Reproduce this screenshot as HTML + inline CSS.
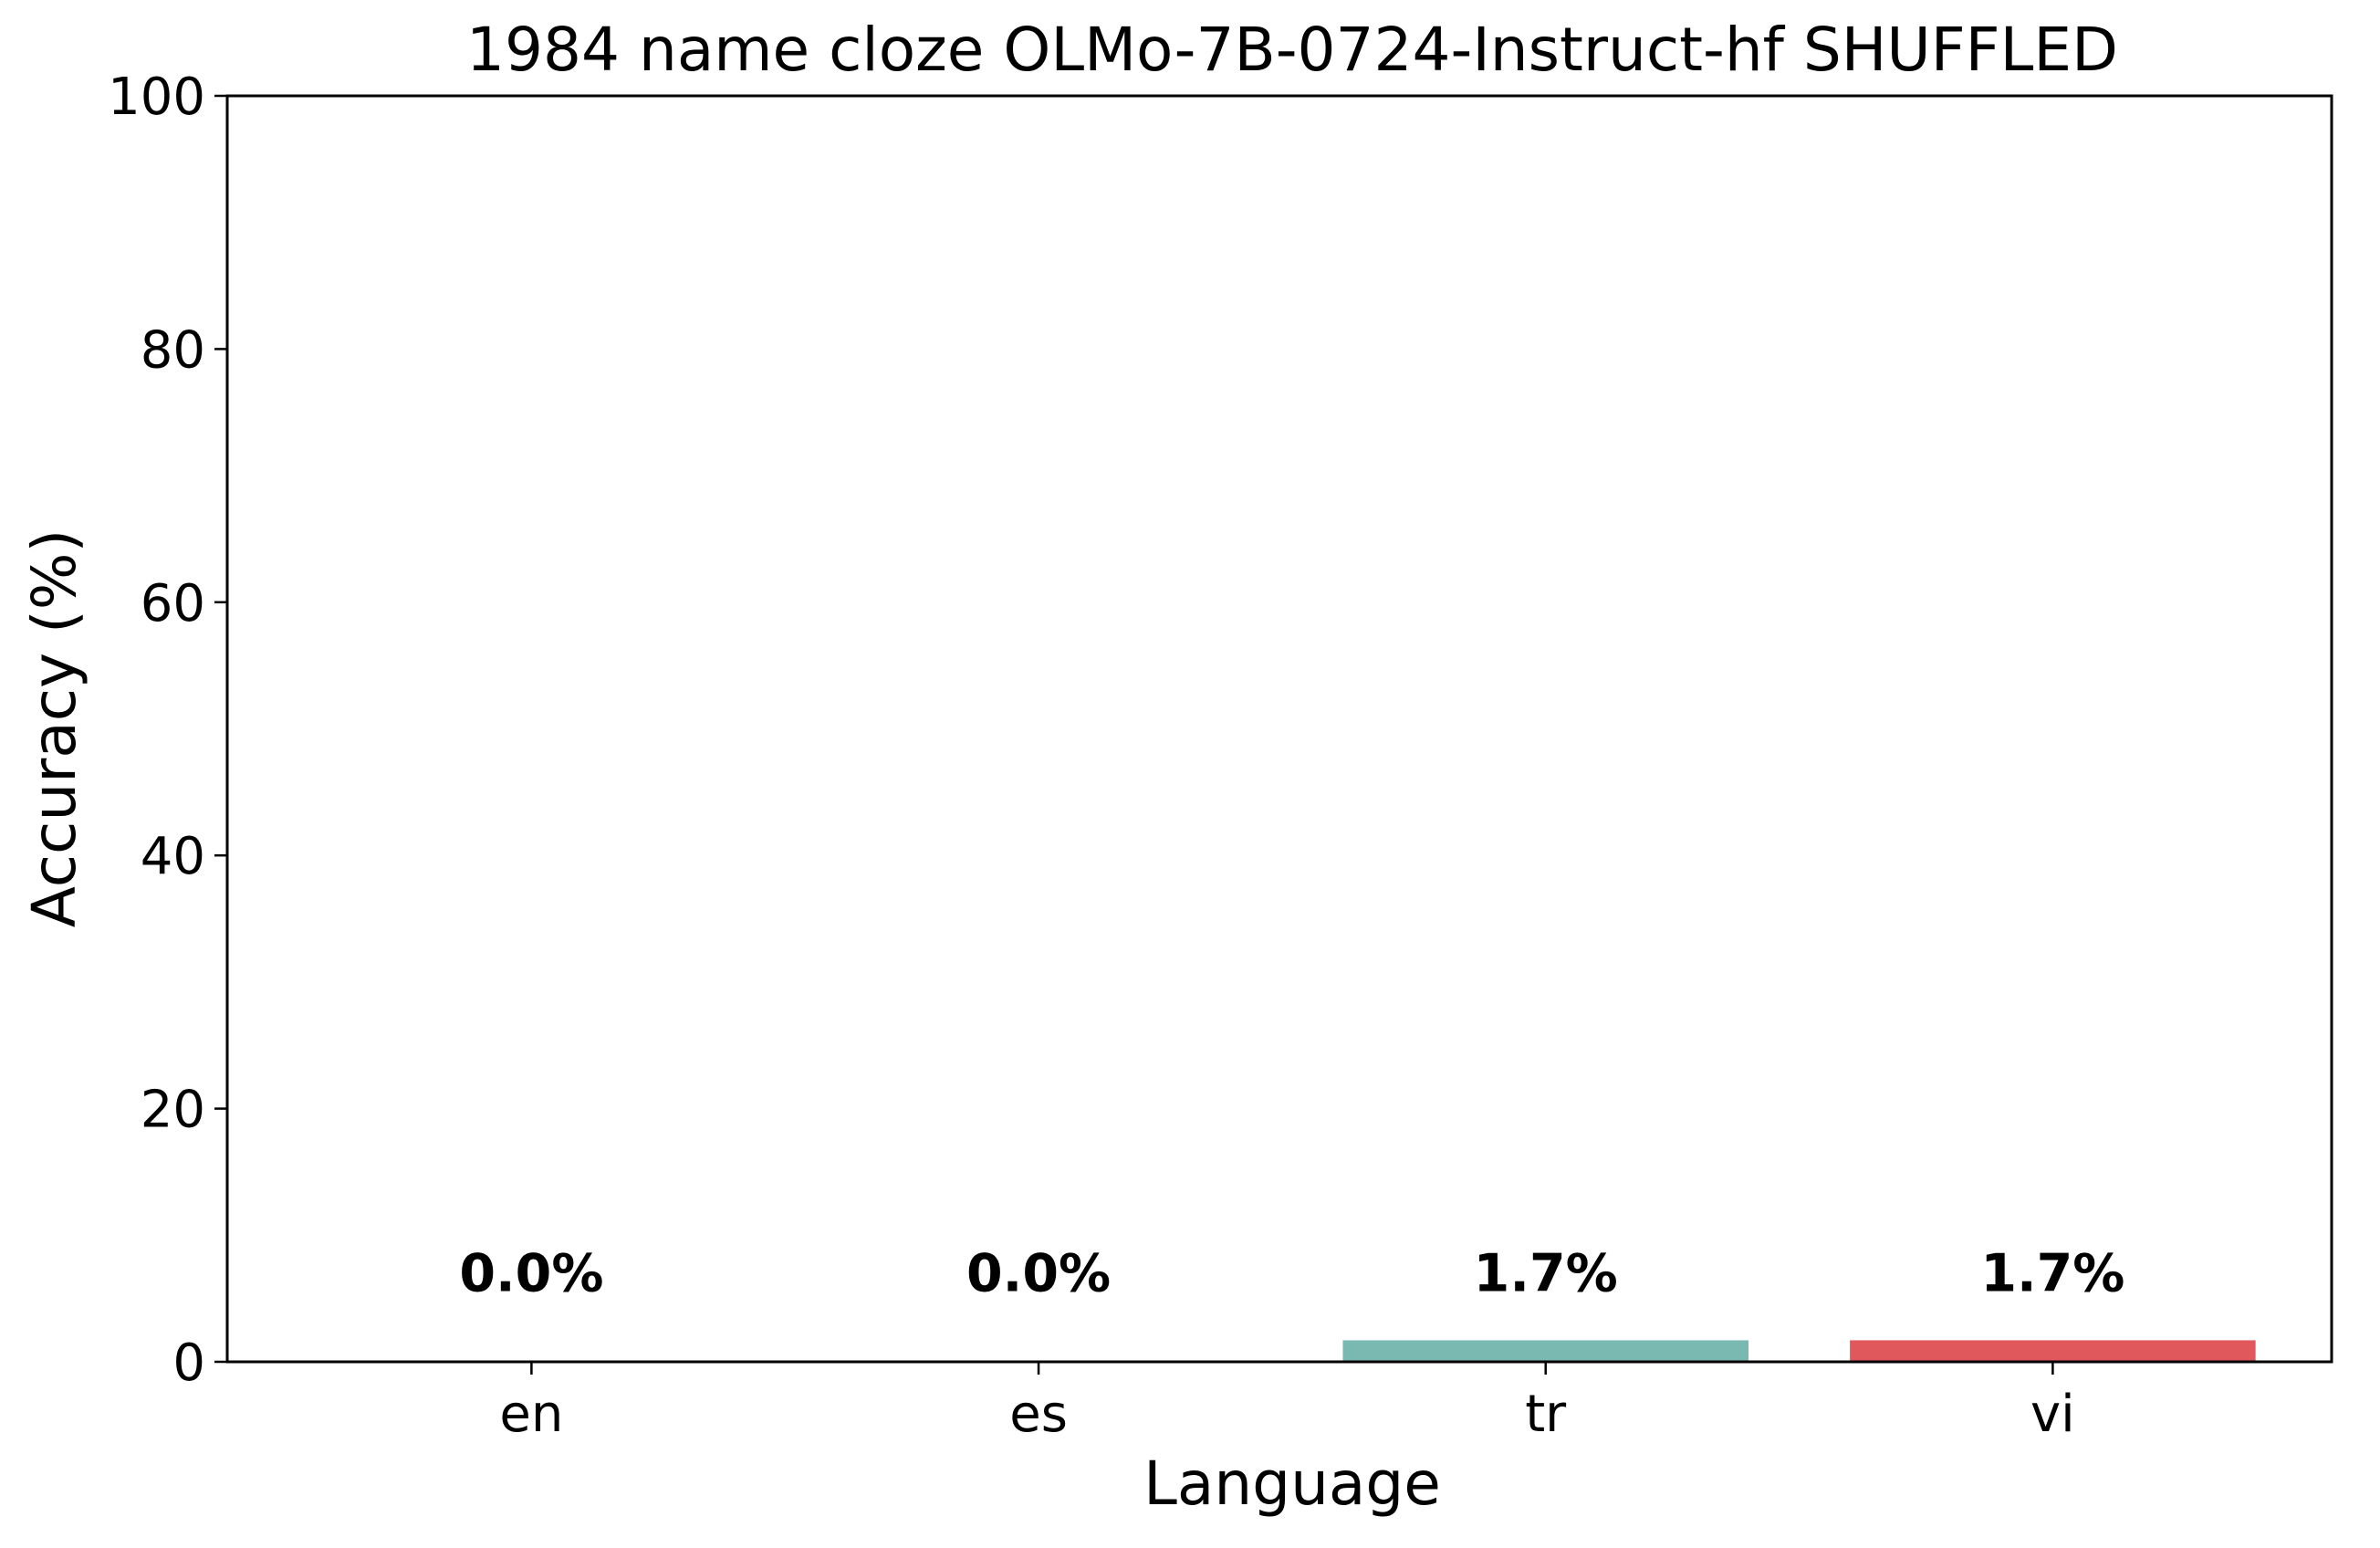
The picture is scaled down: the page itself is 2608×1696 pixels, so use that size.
<!DOCTYPE html>
<html><head><meta charset="utf-8"><style>
html,body{margin:0;padding:0;background:#fff}
svg text{font-family:"DejaVu Sans","Liberation Sans",sans-serif;fill:#000}
</style></head><body>
<svg id="chart" width="2608" height="1691" viewBox="0 0 2608 1691" xmlns="http://www.w3.org/2000/svg">
<rect width="2608" height="1691" fill="#fff"/>
<text x="1416" y="77" font-size="66" text-anchor="middle">1984 name cloze OLMo-7B-0724-Instruct-hf SHUFFLED</text>
<text x="1416" y="1648" font-size="66" text-anchor="middle">Language</text>
<text transform="translate(82,798) rotate(-90)" font-size="66" text-anchor="middle">Accuracy (%)</text>
<g id="bars"></g>
<g id="yticks"></g>
<g id="xticks"></g>
<g id="labels"></g>
<rect x="249" y="105" width="2306" height="1387" fill="none" stroke="#000" stroke-width="3"/>
</svg>
<script>
const categories = ["en", "es", "tr", "vi"];
const values = [0.0, 0.0, 1.7, 1.7];
const valueLabels = ["0.0%", "0.0%", "1.7%", "1.7%"];
const colors = ["#4e79a7", "#f28e2b", "#7ab8b2", "#e0585b"];
const yTicks = [0, 20, 40, 60, 80, 100];

const NS = "http://www.w3.org/2000/svg";
const L = 249, R = 2555, T = 105, B = 1492;
const xmin = -0.6, xmax = 3.55;
function xs(i){ return L + (i - xmin) / (xmax - xmin) * (R - L); }
function ys(v){ return B - v / 100 * (B - T); }
const bw = 0.8 * (xs(1) - xs(0));
function mk(tag, attrs, parent){ const e = document.createElementNS(NS, tag); for (const k in attrs) e.setAttribute(k, attrs[k]); parent.appendChild(e); return e; }

const gb = document.getElementById('bars');
const gy = document.getElementById('yticks');
const gx = document.getElementById('xticks');
const gl = document.getElementById('labels');

categories.forEach((c, i) => {
  const cx = xs(i);
  const r = mk('rect', {x: cx - bw/2, y: ys(values[i]), width: bw, height: B - ys(values[i]), fill: colors[i]}, gb);
  
  
  const t = mk('line', {x1: cx, x2: cx, y1: B, y2: B + 14, stroke: '#000', 'stroke-width': 2.5}, gx);
  
  
  const tl = mk('text', {x: cx, y: B + 76, 'font-size': 56, 'text-anchor': 'middle'}, gx);
  tl.textContent = c;
  
  
  const vl = mk('text', {x: cx, y: ys(5) - 8, 'font-size': 57, 'font-weight': 'bold', 'text-anchor': 'middle'}, gl);
  vl.textContent = valueLabels[i];
  
  
});

yTicks.forEach(v => {
  const y = ys(v);
  const t = mk('line', {x1: L - 14, x2: L, y1: y, y2: y, stroke: '#000', 'stroke-width': 2.5}, gy);
  
  
  const tl = mk('text', {x: L - 24, y: y + 20, 'font-size': 56, 'text-anchor': 'end'}, gy);
  tl.textContent = v;
  
  
});
</script>
</body></html>
